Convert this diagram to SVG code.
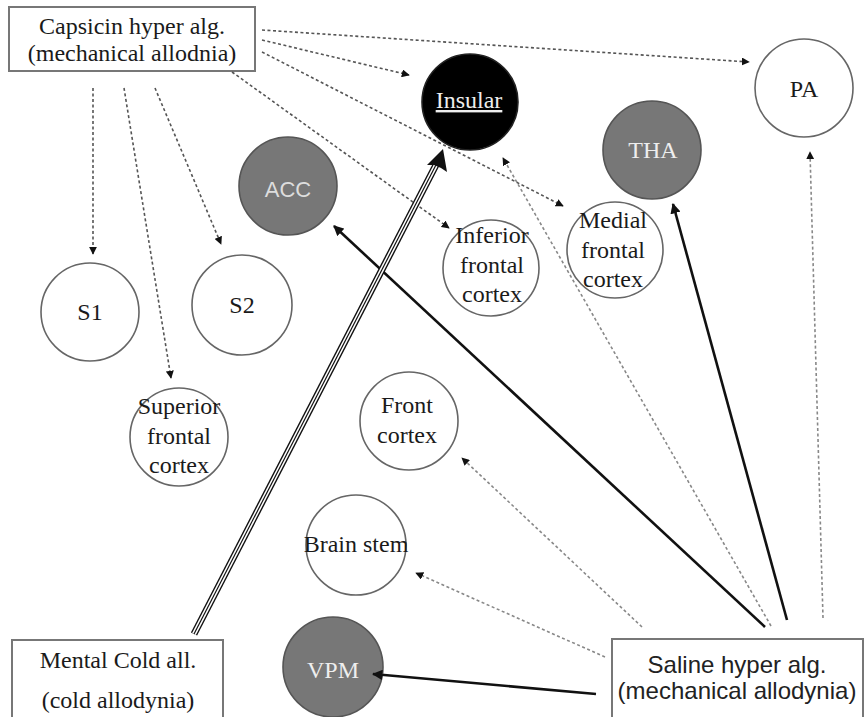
<svg xmlns="http://www.w3.org/2000/svg" width="864" height="717" viewBox="0 0 864 717">
<style>
.bg{fill:#fff}
.box{fill:#fff;stroke:#777;stroke-width:2}
.c{fill:#fff;stroke:#666;stroke-width:1.6}
.g{fill:#777;stroke:#555;stroke-width:1.6}
.k{fill:#000;stroke:#222;stroke-width:1.6}
.t{font-family:"Liberation Serif","Times New Roman",serif;font-size:24px;fill:#1a1a1a;text-anchor:middle}
.tw{font-family:"Liberation Serif","Times New Roman",serif;font-size:24px;fill:#eee;text-anchor:middle}
.s{font-family:"Liberation Sans",Arial,sans-serif;font-size:24px;fill:#222;text-anchor:middle}
.sw{font-family:"Liberation Sans",Arial,sans-serif;font-size:22px;fill:#ddd;text-anchor:middle}
.d{fill:none;stroke:#555;stroke-width:1.6;stroke-dasharray:3 2.5;marker-end:url(#ah)}
.dl{fill:none;stroke:#888;stroke-width:1.6;stroke-dasharray:3 2.5;marker-end:url(#ah)}
.sl{fill:none;stroke:#111;stroke-width:2.6;marker-end:url(#ahs)}
</style>
<defs>
<marker id="ah" viewBox="0 0 10 10" refX="9" refY="5" markerWidth="5" markerHeight="5" orient="auto" markerUnits="strokeWidth">
<path d="M0,0 L10,5 L0,10 z" fill="#111"/>
</marker>
<marker id="ahs" viewBox="0 0 10 10" refX="9" refY="5" markerWidth="4" markerHeight="4" orient="auto" markerUnits="strokeWidth">
<path d="M0,0 L10,5 L0,10 z" fill="#111"/>
</marker>
</defs>
<rect class="bg" x="0" y="0" width="864" height="717"/>

<g id="capsicin">
<rect class="box" x="9" y="7" width="246" height="64"/>
<text class="t" x="132" y="34">Capsicin hyper alg.</text>
<text class="t" x="132" y="61">(mechanical allodnia)</text>
</g>

<g id="insular">
<circle class="k" cx="470" cy="102" r="48"/>
<text class="tw" x="469" y="108" text-decoration="underline">Insular</text>
</g>

<g id="pa">
<circle class="c" cx="804" cy="88" r="49"/>
<text class="t" x="804" y="97">PA</text>
</g>

<g id="tha">
<circle class="g" cx="652" cy="150" r="49"/>
<text class="tw" x="653" y="158">THA</text>
</g>

<g id="acc">
<circle class="g" cx="288" cy="186" r="49"/>
<text class="sw" x="288" y="197">ACC</text>
</g>

<g id="inferior">
<circle class="c" cx="491" cy="268" r="48"/>
<text class="t" x="492" y="243">Inferior</text>
<text class="t" x="492" y="273">frontal</text>
<text class="t" x="492" y="302">cortex</text>
</g>

<g id="medial">
<circle class="c" cx="615" cy="250" r="48"/>
<text class="t" x="613" y="228">Medial</text>
<text class="t" x="613" y="258">frontal</text>
<text class="t" x="613" y="287">cortex</text>
</g>

<g id="s1">
<circle class="c" cx="90" cy="312" r="49"/>
<text class="t" x="90" y="320">S1</text>
</g>

<g id="s2">
<circle class="c" cx="242" cy="305" r="50"/>
<text class="t" x="242" y="313">S2</text>
</g>

<g id="superior">
<circle class="c" cx="179" cy="437" r="49"/>
<text class="t" x="179" y="414">Superior</text>
<text class="t" x="179" y="444">frontal</text>
<text class="t" x="179" y="473">cortex</text>
</g>

<g id="front">
<circle class="c" cx="409" cy="421" r="49"/>
<text class="t" x="407" y="413">Front</text>
<text class="t" x="407" y="443">cortex</text>
</g>

<g id="brainstem">
<circle class="c" cx="356" cy="545" r="50"/>
<text class="t" x="356" y="552">Brain stem</text>
</g>

<g id="vpm">
<circle class="g" cx="333" cy="667" r="50"/>
<text class="tw" x="333" y="678">VPM</text>
</g>

<g id="mental">
<rect class="box" x="12" y="640" width="211" height="80"/>
<text class="t" x="118" y="668">Mental Cold all.</text>
<text class="t" x="118" y="708">(cold allodynia)</text>
</g>

<g id="saline">
<rect class="box" x="612" y="639" width="251" height="80"/>
<text class="s" x="737" y="673">Saline hyper alg.</text>
<text class="s" x="737" y="699">(mechanical allodynia)</text>
</g>

<g id="connectors">
<line class="d" x1="93" y1="88" x2="93" y2="254"/>
<line class="d" x1="124" y1="88" x2="171" y2="378"/>
<line class="d" x1="155" y1="88" x2="221" y2="244"/>
<line class="d" x1="232" y1="72" x2="449" y2="228"/>
<line class="d" x1="262" y1="52" x2="563" y2="206"/>
<line class="d" x1="262" y1="40" x2="409" y2="75"/>
<line class="d" x1="262" y1="30" x2="749" y2="62"/>
<line class="dl" x1="823" y1="618" x2="810" y2="152"/>
<line class="dl" x1="771" y1="626" x2="503" y2="158"/>
<line class="dl" x1="642" y1="627" x2="462" y2="458"/>
<line class="dl" x1="605" y1="657" x2="416" y2="573"/>
<line class="sl" x1="765" y1="627" x2="334" y2="226"/>
<line class="sl" x1="787" y1="620" x2="673" y2="204"/>
<line class="sl" x1="596" y1="694" x2="373" y2="674"/>
<g id="double-arrow">
<line x1="194" y1="634" x2="437" y2="163" stroke="#111" stroke-width="7"/>
<line x1="194" y1="634" x2="437" y2="163" stroke="#fff" stroke-width="4.2"/>
<line x1="194" y1="634" x2="438" y2="161" stroke="#111" stroke-width="1.2"/>
<path d="M443,149 L447,172 L441,168 L434,165 L427,165 z" fill="#111"/>
</g>
</g>
</svg>
